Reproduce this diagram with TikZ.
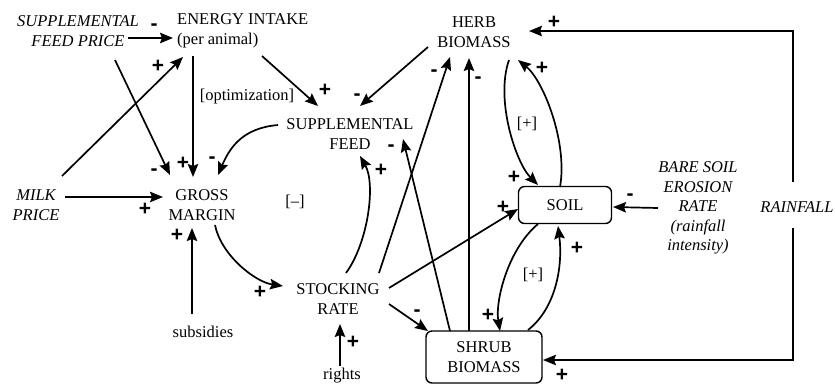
\documentclass[tikz,border=0pt]{standalone}
\usepackage{fontspec}
\setmainfont{Liberation Serif}
\setsansfont{Liberation Sans}
\usetikzlibrary{arrows.meta}

\begin{document}
\begin{tikzpicture}[x=1pt,y=-1pt,
    >={Stealth[length=13pt,width=10.5pt,inset=2pt]},
    var/.style={align=center, inner sep=0pt, font=\fontsize{16.5}{19.5}\selectfont},
    ext/.style={var, font=\fontsize{16.5}{19.5}\selectfont\itshape},
    stockbox/.style={var, draw, rounded corners=6pt, line width=1.4pt},
    link/.style={->, line width=1.7pt},
    sgn/.style={inner sep=0pt, font=\fontsize{21}{21}\selectfont\sffamily\bfseries}]
    \useasboundingbox (0,0) rectangle (835,384);

    \node[ext] (sfp) at (78,31) {SUPPLEMENTAL\\FEED PRICE};
    \node[var, anchor=west, align=left] (energy) at (177,31) {ENERGY INTAKE\\(per animal)};
    \node[var] (opt) at (247,97) {[optimization]};
    \node[var] (feed) at (350,134) {SUPPLEMENTAL\\FEED};
    \node[ext] (milk) at (36,205) {MILK\\PRICE};
    \node[var] (gross) at (202,205) {GROSS\\MARGIN};
    \node[var] (loopa) at (295,202) {[--]};
    \node[var] (stock) at (338,299) {STOCKING\\RATE};
    \node[var] (subs) at (203,332) {subsidies};
    \node[var] (rights) at (342,376) {rights};
    \node[var] (herb) at (474,32) {HERB\\BIOMASS};
    \node[var] (loopb) at (527,124) {[+]};
    \node[stockbox, minimum width=93pt, minimum height=37pt] (soil) at (565,205) {SOIL};
    \node[var] (loopc) at (533,275) {[+]};
    \node[stockbox, minimum width=116pt, minimum height=52pt] (shrub) at (484,357) {SHRUB\\BIOMASS};
    \node[ext] (bare) at (698,208) {BARE SOIL\\EROSION\\RATE\\(rainfall\\intensity)};
    \node[ext] (rain) at (797,207) {RAINFALL};

    \draw[link] ([shift={(50,7)}]sfp.center) -- ([shift={(-4,7)}]energy.west);
    \draw[link] ([shift={(37,29)}]sfp.center) -- ([shift={(-32,-30)}]gross.center);
    \draw[link] ([shift={(26,-29)}]milk.center) -- ([shift={(6,26)}]energy.west);
    \draw[link] ([shift={(16,25)}]energy.west) -- ([shift={(-9,-28)}]gross.center);
    \draw[link] ([shift={(-72,-9)}]feed.center) .. controls +(-35,3) and +(12,-28) .. ([shift={(16,-30)}]gross.center);
    \draw[link] ([shift={(29,-8)}]milk.center) -- ([shift={(-39,-8)}]gross.center);
    \draw[link] ([shift={(85,25)}]energy.west) -- ([shift={(-32,-28)}]feed.center);
    \draw[link] ([shift={(-46,15)}]herb.center) -- ([shift={(10,-28)}]feed.center);
    \draw[link] ([shift={(13,20)}]gross.center) .. controls +(6,30) and +(-28,-4) .. ([shift={(-55,-13)}]stock.center);
    \draw[link] ([shift={(-11,-18)}]subs.center) -- ([shift={(-10,23)}]gross.center);
    \draw[link] ([shift={(-2,-10)}]rights.center) -- ([shift={(2,25)}]stock.center);
    \draw[link] ([shift={(8,-26)}]stock.center) .. controls +(22,-30) and +(16,28) .. ([shift={(10,22)}]feed.center);
    \draw[link] ([shift={(41,-26)}]stock.center) -- ([shift={(-24,25)}]herb.center);
    \draw[link] ([shift={(-34,-26)}]shrub.center) -- ([shift={(53,5)}]feed.center);
    \draw[link] ([shift={(-15,-26)}]shrub.center) -- ([shift={(-5,26)}]herb.center);
    \draw[link] ([shift={(51,-11)}]stock.center) -- ([shift={(-47,4)}]soil.center);
    \draw[link] ([shift={(51,5)}]stock.center) -- ([shift={(-56,-26)}]shrub.center);
    \draw[link] ([shift={(35,28)}]herb.center) .. controls +(-14,40) and +(-22,-22) .. ([shift={(-27,-20)}]soil.center);
    \draw[link] ([shift={(-5,-18)}]soil.center) .. controls +(8,-45) and +(25,20) .. ([shift={(44,28)}]herb.center);
    \draw[link] ([shift={(-27,19)}]soil.center) .. controls +(-30,25) and +(-5,-30) .. ([shift={(16,-26)}]shrub.center);
    \draw[link] ([shift={(44,-27)}]shrub.center) .. controls +(28,-22) and +(5,40) .. ([shift={(-7,21)}]soil.center);
    \draw[link] ([shift={(-40,0)}]bare.center) -- ([shift={(48,2)}]soil.center);
    \draw[link] ([shift={(-4,-25)}]rain.center) |- ([shift={(55,-1)}]herb.center);
    \draw[link] ([shift={(-4,21)}]rain.center) |- ([shift={(59,3)}]shrub.center);

    \node[sgn] (s1) at (154,27) {-};
    \node[sgn] (s2) at (158,66) {+};
    \node[sgn] (s3) at (154,172) {-};
    \node[sgn] (s4) at (183,163) {+};
    \node[sgn] (s5) at (212,160) {-};
    \node[sgn] (s6) at (145,209) {+};
    \node[sgn] (s7) at (177,235) {+};
    \node[sgn] (s8) at (325,90) {+};
    \node[sgn] (s9) at (357,97) {-};
    \node[sgn] (s10) at (260,292) {+};
    \node[sgn] (s11) at (353,342) {+};
    \node[sgn] (s12) at (381,170) {+};
    \node[sgn] (s13) at (391,148) {-};
    \node[sgn] (s14) at (434,73) {-};
    \node[sgn] (s15) at (478,80) {-};
    \node[sgn] (s16) at (503,207) {+};
    \node[sgn] (s17) at (417,313) {-};
    \node[sgn] (s18) at (514,177) {+};
    \node[sgn] (s19) at (542,68) {+};
    \node[sgn] (s20) at (488,315) {+};
    \node[sgn] (s21) at (577,248) {+};
    \node[sgn] (s22) at (630,197) {-};
    \node[sgn] (s23) at (554,22) {+};
    \node[sgn] (s24) at (562,375) {+};
\end{tikzpicture}
\end{document}
